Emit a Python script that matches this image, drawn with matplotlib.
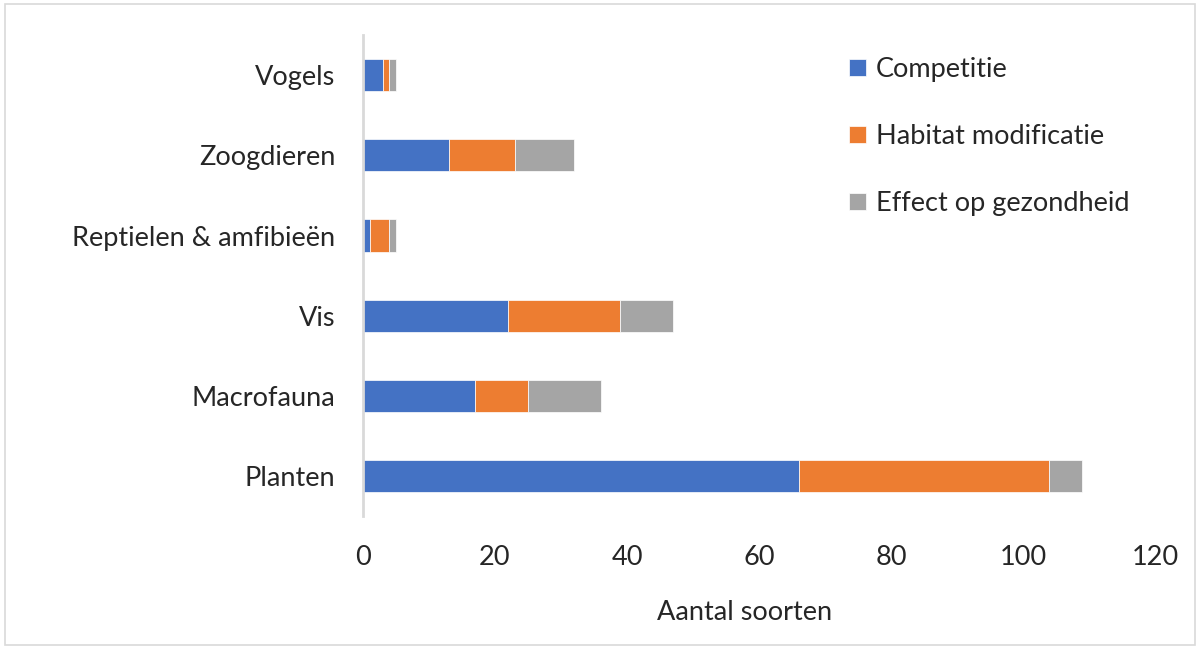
import matplotlib
matplotlib.use("Agg")
import matplotlib.pyplot as plt
from matplotlib.patches import Rectangle
import numpy as np

categories = ["Planten", "Macrofauna", "Vis", "Reptielen & amfibieën", "Zoogdieren", "Vogels"]
competitie = [66, 17, 22, 1, 13, 3]
habitat = [38, 8, 17, 3, 10, 1]
gezondheid = [5, 11, 8, 1, 9, 1]
series_names = ["Competitie", "Habitat modificatie", "Effect op gezondheid"]
colors = ["#4472C4", "#ED7D31", "#A5A5A5"]
xticks = [0, 20, 40, 60, 80, 100, 120]

plt.rcParams['font.family'] = ['Lato', 'DejaVu Sans']
FS = 19.5
fig = plt.figure(figsize=(12, 6.48), dpi=100)
ax = fig.add_axes([0.3025, 0.2037, 0.66, 0.742])

y = np.arange(len(categories))
left = np.zeros(len(categories))
for vals, name, c in zip([competitie, habitat, gezondheid], series_names, colors):
    ax.barh(y, vals, left=left, height=0.4, color=c, label=name,
            edgecolor='white', linewidth=0.5)
    left = left + np.array(vals)

ax.set_xlim(0, 120)
ax.set_ylim(-0.5, len(categories) - 0.5)
ax.set_yticks(y)
ax.set_yticklabels(categories, fontsize=FS, color='#262626')
ax.set_xticks(xticks)
ax.set_xticklabels([str(t) for t in xticks], fontsize=FS, color='#262626')
ax.tick_params(axis='both', length=0)
ax.tick_params(axis='x', pad=21)
ax.tick_params(axis='y', pad=20)
for s in ['top', 'right', 'bottom']:
    ax.spines[s].set_visible(False)
ax.spines['left'].set_color('#D9D9D9')
ax.spines['left'].set_linewidth(2)
ax.set_xlabel("Aantal soorten", fontsize=FS, color='#262626', labelpad=22)
ax.xaxis.set_label_coords(0.482, -0.175)

leg = fig.legend(loc='upper left', bbox_to_anchor=(0.6875, 0.949), frameon=False,
                 fontsize=FS, handlelength=0.6, handleheight=0.6,
                 handletextpad=0.37, labelspacing=1.54)
for t in leg.get_texts():
    t.set_color('#262626')

fig.patches.append(Rectangle((0.004, 0.004), 0.992, 0.99, transform=fig.transFigure,
                             fill=False, edgecolor='#D9D9D9', linewidth=1.2))
fig.savefig("out.png", dpi=100)
